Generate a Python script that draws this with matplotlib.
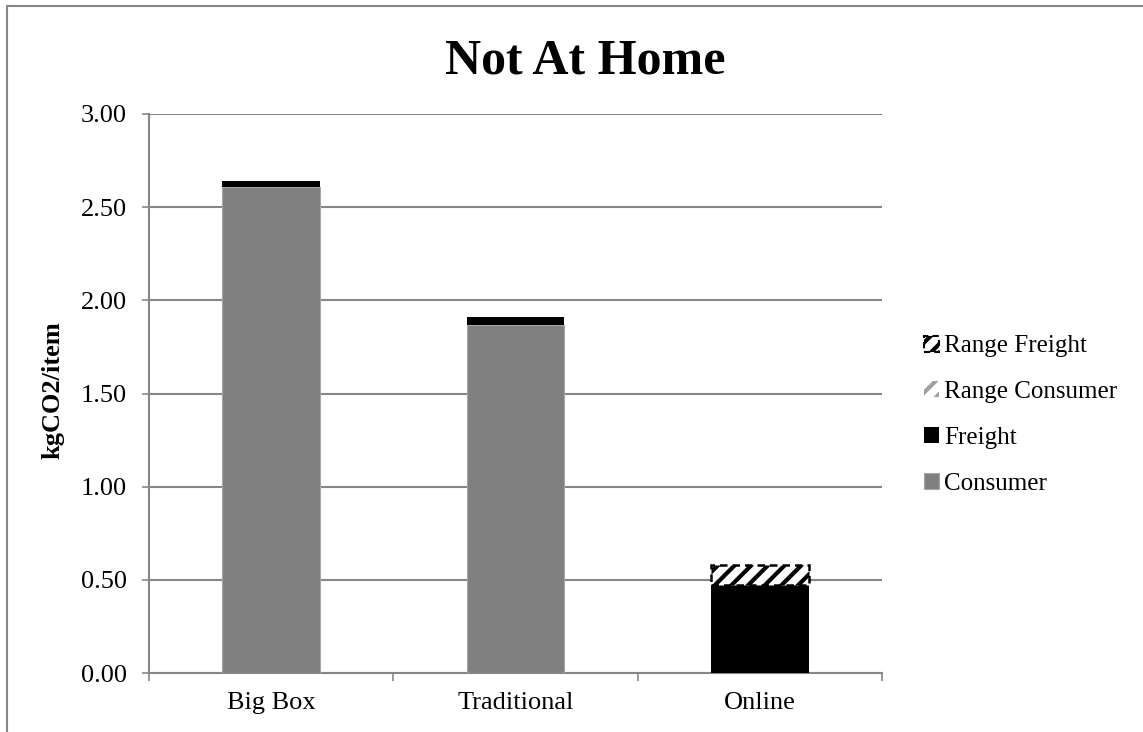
import numpy as np
import matplotlib
matplotlib.use('Agg')
import matplotlib.pyplot as plt
from matplotlib.patches import Rectangle

# Data
categories = ['Big Box', 'Traditional', 'Online']
consumer = [2.61, 1.87, 0.0]
freight = [0.03, 0.04, 0.47]
range_consumer = [0.0, 0.0, 0.0]
range_freight = [0.0, 0.0, 0.11]
yticks = [0.0, 0.5, 1.0, 1.5, 2.0, 2.5, 3.0]

plt.rcParams['font.family'] = ['Liberation Serif', 'DejaVu Serif']
plt.rcParams['hatch.linewidth'] = 3.0

W, H = 1143, 732
fig = plt.figure(figsize=(W / 100, H / 100), dpi=100)
ax = fig.add_axes([149 / W, 1 - 673 / H, (882 - 149) / W, (673 - 114) / H])

grid_col = '#868686'
x = np.arange(len(categories))
bw = 0.4
dash = (0, (3, 2))

b_cons = np.array(consumer)
b_frt = b_cons + np.array(freight)
b_rc = b_frt + np.array(range_consumer)

ax.bar(x, consumer, bw, color='#808080', edgecolor='#a6a6a6', linewidth=0.8,
       label='Consumer', zorder=3)
ax.bar(x, freight, bw, bottom=b_cons, color='black', label='Freight', zorder=3)
ax.bar(x, range_consumer, bw, bottom=b_frt, color='white', edgecolor='#a0a0a0',
       hatch='//', linewidth=0, label='Range Consumer', zorder=3)
rf = ax.bar(x, range_freight, bw, bottom=b_rc, color='white', edgecolor='black',
            hatch='//', linewidth=1.8, linestyle=dash, label='Range Freight', zorder=3)
# no outline on empty segments
for p, v in zip(rf.patches, range_freight):
    if v == 0:
        p.set_linestyle('-')
        p.set_linewidth(0)

ax.set_xlim(-0.5, len(categories) - 0.5)
ax.set_ylim(0, 3.0)
ax.set_yticks(yticks)
ax.set_yticklabels(['{:.2f}'.format(v) for v in yticks])
ax.set_xticks(x)
ax.set_xticklabels(categories)
# boundary ticks like excel
ax.set_xticks(np.arange(-0.5, len(categories), 1.0), minor=True)
ax.tick_params(axis='x', which='major', length=0, pad=14, labelsize=19)
ax.tick_params(axis='x', which='minor', length=6, width=1.2, color=grid_col, direction='out')
ax.tick_params(axis='y', length=5, width=1.2, color=grid_col, pad=11, labelsize=19)

ax.yaxis.grid(True, color=grid_col, linewidth=1.5, zorder=0)
ax.set_axisbelow(True)
for s in ['top', 'right']:
    ax.spines[s].set_visible(False)
for s in ['left', 'bottom']:
    ax.spines[s].set_color(grid_col)
    ax.spines[s].set_linewidth(1.5)

fig.text(53 / W, 1 - 390 / H, 'kgCO2/item', rotation=90, fontsize=19,
         fontweight='bold', ha='center', va='center')
fig.text(585 / W, 1 - 73 / H, 'Not At Home', fontsize=36, fontweight='bold',
         ha='center', va='baseline')

handles, labels = ax.get_legend_handles_labels()
leg = fig.legend(handles[::-1], labels[::-1], loc='center left',
                 bbox_to_anchor=(914 / W, 1 - 415 / H), frameon=False, fontsize=18,
                 handlelength=0.6, handleheight=0.6, handletextpad=0.2,
                 labelspacing=0.95, borderaxespad=0)
leg.legend_handles[0].set_linewidth(1.5)
leg.legend_handles[0].set_linestyle(dash)

# outer chart-area border (runs off the right and bottom)
fig.patches.append(Rectangle((7 / W, -0.5), 2.0, 0.5 + 1 - 6 / H, transform=fig.transFigure,
                             fill=False, edgecolor=grid_col, linewidth=1.5))

fig.savefig('out.png', dpi=100)
